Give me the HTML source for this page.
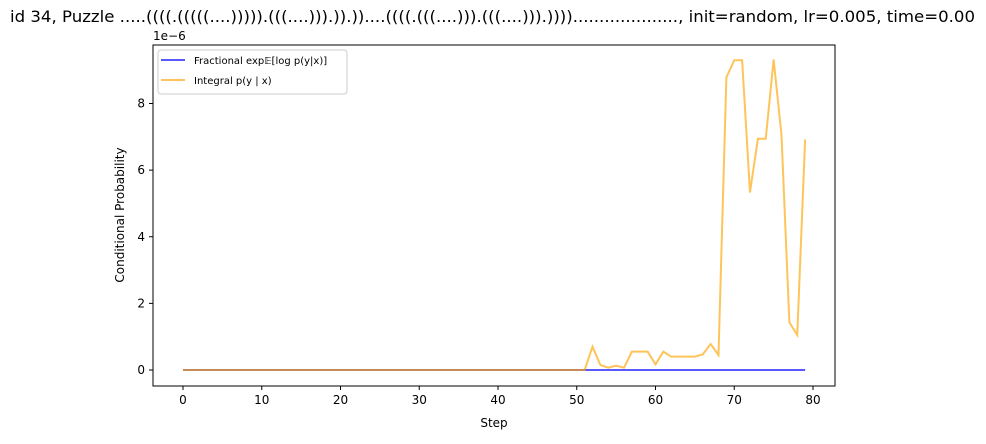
<!DOCTYPE html>
<html><head><meta charset="utf-8"><style>
body{margin:0;background:#fff;font-family:"Liberation Sans","DejaVu Sans",sans-serif}
svg text{font-family:"DejaVu Sans","Liberation Sans",sans-serif}
</style></head><body>
<svg id="chart" width="986" height="439" xmlns="http://www.w3.org/2000/svg">
<rect width="986" height="439" fill="#fff"/>
<text x="10" y="22" font-size="16" textLength="965" lengthAdjust="spacingAndGlyphs">id 34, Puzzle .....((((.(((((....))))).(((....))).)).))....((((.(((....))).(((....))).))))...................., init=random, lr=0.005, time=0.00</text>
<g id="plot"></g>
</svg>
<script>
const steps = Array.from({length:80},(_, i)=>i);
const fractional = new Array(80).fill(0);
const integral = [0,0,0,0,0,0,0,0,0,0,0,0,0,0,0,0,0,0,0,0,0,0,0,0,0,0,0,0,0,0,0,0,0,0,0,0,0,0,0,0,0,0,0,0,0,0,0,0,0,0,0,0,
0.70,0.15,0.07,0.13,0.07,0.55,0.55,0.55,0.17,0.55,0.40,0.40,0.40,0.40,0.47,0.78,0.45,8.78,9.3,9.3,5.33,6.94,6.94,9.32,7.05,1.43,1.05,6.92];
const xTicks = [0,10,20,30,40,50,60,70,80];
const yTicks = [0,2,4,6,8];

const L=153,R=835,T=45,B=386;
const x = v => 183 + v*(813-183)/80;
const y = v => 370 - v*(370-103.5)/8;
const NS="http://www.w3.org/2000/svg";
const g=document.getElementById('plot');
function mk(tag,attrs,parent){const e=document.createElementNS(NS,tag);for(const k in attrs)e.setAttribute(k,attrs[k]);(parent||g).appendChild(e);return e;}

xTicks.forEach(t=>{
  const l=mk('line',{x1:x(t),x2:x(t),y1:B,y2:B+4,stroke:'#000'});
  
  
  const tx=mk('text',{x:x(t),y:B+18,'font-size':12,'text-anchor':'middle'});tx.textContent=t;
  
  
});
yTicks.forEach(t=>{
  const l=mk('line',{x1:L-4,x2:L,y1:y(t),y2:y(t),stroke:'#000'});
  
  
  const tx=mk('text',{x:L-8,y:y(t)+4,'font-size':12,'text-anchor':'end'});tx.textContent=t;
  
  
});
function line(vals,color,name){
  const p=mk('polyline',{points:vals.map((v,i)=>x(steps[i])+','+y(v)).join(' '),fill:'none',stroke:color,'stroke-width':2,'stroke-opacity':0.65});
  
  
}
line(fractional,'#0000ff','fractional-line');
line(integral,'#ffa500','integral-line');
const fr=mk('rect',{x:L,y:T,width:R-L,height:B-T,fill:'none',stroke:'#000','stroke-width':1});


let t;
t=mk('text',{x:L,y:40,'font-size':12});t.textContent='1e\u22126';


t=mk('text',{x:494,y:427,'font-size':12,'text-anchor':'middle'});t.textContent='Step';


t=mk('text',{x:124,y:215,'font-size':12,'text-anchor':'middle',transform:'rotate(-90 124 215)'});t.textContent='Conditional Probability';


const lg=mk('g',{});


mk('rect',{x:158,y:50,width:189,height:44,rx:3,fill:'#fff',stroke:'#ccc'},lg);
mk('line',{x1:161,x2:185,y1:60,y2:60,stroke:'#0000ff','stroke-opacity':0.65,'stroke-width':2},lg);
mk('line',{x1:161,x2:185,y1:80,y2:80,stroke:'#ffa500','stroke-opacity':0.65,'stroke-width':2},lg);
t=mk('text',{x:194,y:64,'font-size':10},lg);t.textContent='Fractional exp\uD835\uDD3C[log p(y|x)]';


t=mk('text',{x:194,y:84,'font-size':10},lg);t.textContent='Integral p(y | x)';


</script>
</body></html>
